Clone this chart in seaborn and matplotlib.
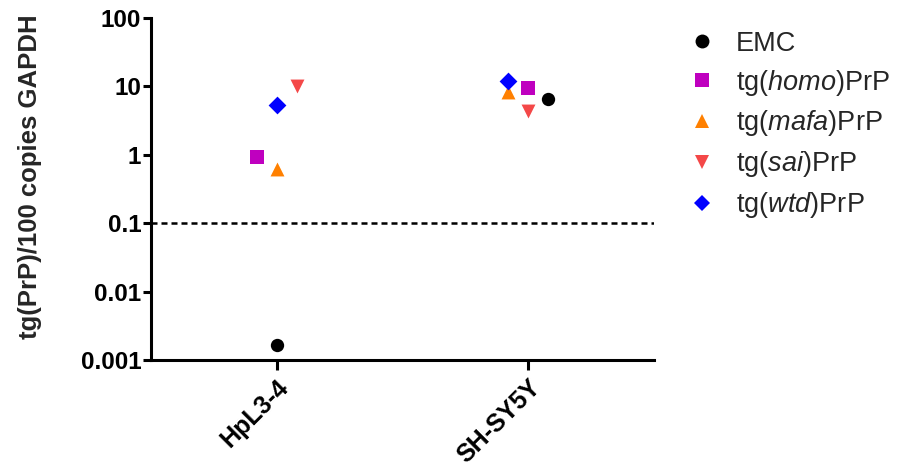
import matplotlib
matplotlib.use("Agg")
import matplotlib.pyplot as plt
from matplotlib.lines import Line2D
import numpy as np
import pandas as pd
import seaborn as sns

# --- data -------------------------------------------------------------
cell_lines = ["HpL3-4", "SH-SY5Y"]
series = ["EMC", "homo", "mafa", "sai", "wtd"]
series_labels = ["EMC", r"tg($\mathit{homo}$)PrP", r"tg($\mathit{mafa}$)PrP",
                 r"tg($\mathit{sai}$)PrP", r"tg($\mathit{wtd}$)PrP"]
hpl_values = [0.00165, 0.94, 0.62, 10.0, 5.3]
shsy_values = [6.6, 9.6, 8.2, 4.3, 11.8]
cutoff = 0.1
y_ticks = [0.001, 0.01, 0.1, 1, 10, 100]
y_tick_labels = ["0.001", "0.01", "0.1", "1", "10", "100"]

# --- styling ----------------------------------------------------------
colors = {"EMC": "#000000", "homo": "#BF00BF", "mafa": "#FF8000",
          "sai": "#F44848", "wtd": "#0000FF"}
markers = {"EMC": "o", "homo": "s", "mafa": "^", "sai": "v", "wtd": "D"}
sizes = {"EMC": 92, "homo": 112, "mafa": 100, "sai": 100, "wtd": 82}
# side-by-side placement of overlapping points within each column
spread = {
    "HpL3-4": {"EMC": 0, "homo": -1, "mafa": 0, "sai": 1, "wtd": 0},
    "SH-SY5Y": {"EMC": 1, "homo": 0, "mafa": -1, "sai": 0, "wtd": -1},
}
step = 0.08

sns.set_style("ticks")
plt.rcParams["font.family"] = ["Liberation Sans", "DejaVu Sans"]
plt.rcParams["mathtext.fontset"] = "custom"
plt.rcParams["mathtext.rm"] = "Liberation Sans"
plt.rcParams["mathtext.it"] = "Liberation Sans:italic"

rows = []
for ci, (line, vals) in enumerate(zip(cell_lines, [hpl_values, shsy_values])):
    for s, v in zip(series, vals):
        rows.append({"cell": line, "series": s, "value": v,
                     "x": ci + spread[line][s] * step})
df = pd.DataFrame(rows)

fig = plt.figure(figsize=(8.97, 4.73), dpi=100)
ax = fig.add_axes([0.1683, 0.2389, 0.7290 - 0.1683, 0.962 - 0.2389])

for s in series:
    sub = df[df["series"] == s]
    sns.scatterplot(data=sub, x="x", y="value", ax=ax, color=colors[s],
                    marker=markers[s], s=sizes[s], linewidth=0, zorder=3,
                    legend=False)

ax.set_yscale("log")
ax.set_ylim(0.001, 100)
ax.set_xlim(-0.5, 1.5)
ax.axhline(cutoff, color="black", lw=1.8, dashes=(2.4, 1.6), zorder=2)

ax.set_yticks(y_ticks)
ax.set_yticklabels(y_tick_labels)
ax.yaxis.set_minor_locator(matplotlib.ticker.NullLocator())
ax.set_xticks(range(len(cell_lines)))
ax.set_xticklabels(cell_lines, rotation=45, ha="right", rotation_mode="anchor")

for lab in ax.get_yticklabels():
    lab.set_fontweight("bold")
    lab.set_fontsize(17.5)
for lab in ax.get_xticklabels():
    lab.set_fontweight("bold")
    lab.set_fontsize(18)

ax.tick_params(axis="y", length=6, width=2.2, pad=1, colors="black")
ax.tick_params(axis="x", length=7, width=2.2, pad=4, colors="black")
sns.despine(ax=ax)
for sp in ("left", "bottom"):
    ax.spines[sp].set_linewidth(2.2)
    ax.spines[sp].set_color("black")

ax.set_xlabel("")
ax.set_ylabel("tg(PrP)/100 copies GAPDH", fontsize=18.5, fontweight="bold")
ax.yaxis.set_label_coords(-0.217, 0.535)

handles = [Line2D([], [], linestyle="none", marker=markers[s],
                  color=colors[s], markersize=(8.5 if s == "wtd" else 10),
                  markeredgewidth=0) for s in series]
fig.legend(handles, series_labels, loc="upper left",
           bbox_to_anchor=(0.757, 0.958), frameon=False, fontsize=19.5,
           handletextpad=0.8, labelspacing=0.4, handlelength=0.9,
           borderaxespad=0)

fig.savefig("out.png", dpi=100)
